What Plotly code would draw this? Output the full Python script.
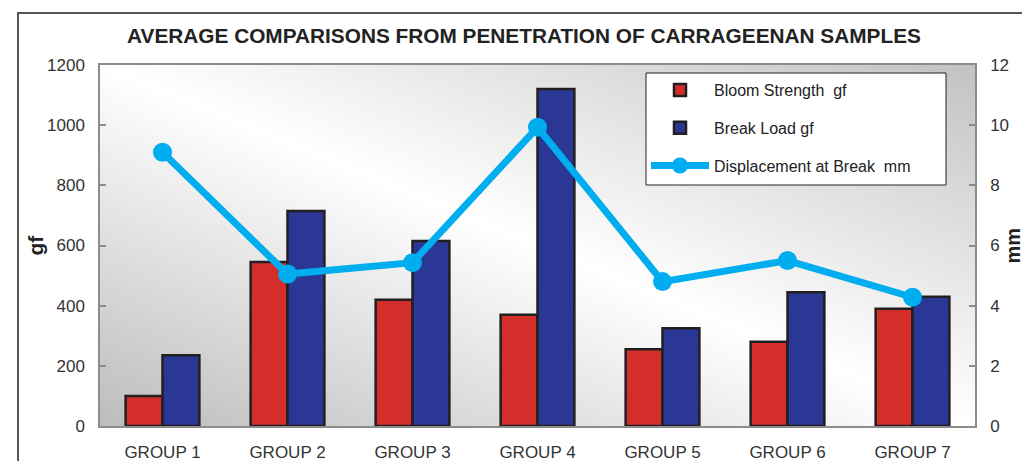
import base64
import plotly.graph_objects as go

groups = ["GROUP 1", "GROUP 2", "GROUP 3", "GROUP 4", "GROUP 5", "GROUP 6", "GROUP 7"]
bloom_strength = [100, 545, 420, 370, 255, 280, 390]
break_load = [235, 715, 615, 1120, 325, 445, 430]
displacement = [9.1, 5.05, 5.43, 9.93, 4.8, 5.5, 4.28]

left_ticks = [0, 200, 400, 600, 800, 1000, 1200]
right_ticks = [0, 2, 4, 6, 8, 10, 12]

FONT = "Arial, Liberation Sans, Helvetica, sans-serif"

# page offset of the plot div (browser default body margin)
OFF = 8
L, T, R, B = 100 - OFF, 65 - OFF, 1030 - 975 + OFF, 461 - 426 + OFF
PW, PH = 1030 - L - R, 461 - T - B

svg = """<svg xmlns='http://www.w3.org/2000/svg' width='875' height='361' viewBox='0 0 875 361' preserveAspectRatio='none'>
<defs><linearGradient id='g' x1='0' y1='1' x2='1' y2='0'>
<stop offset='0' stop-color='#bcbcbc'/>
<stop offset='0.5' stop-color='#ffffff'/>
<stop offset='1' stop-color='#c2c2c2'/>
</linearGradient></defs>
<rect width='875' height='361' fill='url(#g)'/></svg>"""
bg_src = "data:image/svg+xml;base64," + base64.b64encode(svg.encode()).decode()


def px_x(page_x):
    return (page_x - OFF - L) / PW


def px_y(page_y):
    return (T + PH - (page_y - OFF)) / PH


fig = go.Figure()
fig.add_trace(go.Bar(
    x=groups, y=bloom_strength, name="Bloom Strength  gf",
    marker=dict(color="#D42E2B", line=dict(color="#231F20", width=2.5)),
    legendgroup="a",
))
fig.add_trace(go.Bar(
    x=groups, y=break_load, name="Break Load gf",
    marker=dict(color="#2B3794", line=dict(color="#231F20", width=2.5)),
    legendgroup="b",
))
fig.add_trace(go.Scatter(
    x=groups, y=displacement, name="Displacement at Break  mm", yaxis="y2",
    mode="lines+markers",
    line=dict(color="#00AEEF", width=7),
    marker=dict(color="#00AEEF", size=19),
    legendgroup="c",
))

axis_common = dict(
    showline=True, linecolor="#8c8c8c", linewidth=1.5,
    ticklen=6, tickcolor="#8c8c8c", tickwidth=1.5,
    showgrid=False, zeroline=False, automargin=False,
    tickfont=dict(family=FONT, size=17, color="#333333"),
)

fig.update_layout(
    width=1030, height=461,
    margin=dict(l=L, r=R, t=T, b=B, autoexpand=False),
    paper_bgcolor="white",
    plot_bgcolor="rgba(0,0,0,0)",
    barmode="group", bargap=0.41, bargroupgap=0,
    showlegend=True,
    legend=dict(
        x=px_x(646), y=px_y(73), xanchor="left", yanchor="top",
        bgcolor="rgba(0,0,0,0)", borderwidth=0,
        font=dict(family=FONT, size=16, color="#222222"),
        tracegroupgap=14, traceorder="grouped",
        itemwidth=58,
    ),
    xaxis=dict(**axis_common, mirror=True, ticks="", ticklabelstandoff=10),
    yaxis=dict(**axis_common, ticks="inside", range=[0, 1200],
               tickvals=left_ticks, ticklabelstandoff=10),
    yaxis2=dict(**axis_common, ticks="inside", range=[0, 12],
                tickvals=right_ticks, overlaying="y", side="right",
                ticklabelstandoff=10),
    title=dict(
        text="<b>AVERAGE COMPARISONS FROM PENETRATION OF CARRAGEENAN SAMPLES</b>",
        x=(524 - OFF) / 1030, xref="container", xanchor="center",
        y=1 - (36 - OFF) / 461, yref="container", yanchor="middle",
        font=dict(family=FONT, size=20.8, color="#222222"),
    ),
    images=[dict(
        source=bg_src, xref="paper", yref="paper", x=0, y=1,
        sizex=1, sizey=1, sizing="stretch", xanchor="left", yanchor="top",
        layer="below",
    )],
    shapes=[
        dict(
            type="rect", xref="paper", yref="paper",
            x0=px_x(18), x1=px_x(1060),
            y0=px_y(490), y1=px_y(13),
            line=dict(color="#555555", width=2), fillcolor="rgba(0,0,0,0)",
            layer="below",
        ),
        # legend box
        dict(
            type="rect", xref="paper", yref="paper",
            x0=px_x(646), x1=px_x(946),
            y0=px_y(185), y1=px_y(73),
            line=dict(color="#222222", width=1), fillcolor="white",
            layer="above",
        ),
    ],
    annotations=[
        dict(text="<b>gf</b>", xref="paper", yref="paper",
             x=px_x(35), y=0.5, xanchor="center", yanchor="middle",
             textangle=-90, showarrow=False,
             font=dict(family=FONT, size=21, color="#222222")),
        dict(text="<b>mm</b>", xref="paper", yref="paper",
             x=px_x(1012), y=0.5, xanchor="center", yanchor="middle",
             textangle=-90, showarrow=False,
             font=dict(family=FONT, size=20, color="#222222")),
    ],
)

fig.write_html("out.html")
